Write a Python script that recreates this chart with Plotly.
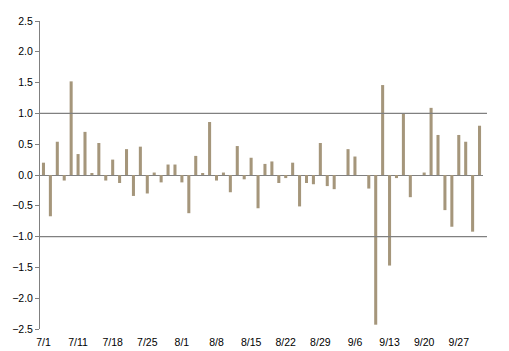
import plotly.graph_objects as go

dates = [
    "7/1", "7/5", "7/6", "7/7", "7/8", "7/11", "7/12", "7/13", "7/14", "7/15",
    "7/18", "7/19", "7/20", "7/21", "7/22", "7/25", "7/26", "7/27", "7/28", "7/29",
    "8/1", "8/2", "8/3", "8/4", "8/5", "8/8", "8/9", "8/10", "8/11", "8/12",
    "8/15", "8/16", "8/17", "8/18", "8/19", "8/22", "8/23", "8/24", "8/25", "8/26",
    "8/29", "8/30", "8/31",
    "9/1", "9/2", "9/6", "9/7", "9/8", "9/9", "9/12", "9/13", "9/14", "9/15", "9/16",
    "9/19", "9/20", "9/21", "9/22", "9/23", "9/26", "9/27", "9/28", "9/29", "9/30",
]

values = [
    0.20, -0.67, 0.54, -0.09, 1.52, 0.34, 0.70, 0.02, 0.52, -0.09,
    0.25, -0.13, 0.42, -0.34, 0.46, -0.30, 0.04, -0.12, 0.17, 0.17,
    -0.12, -0.62, 0.31, 0.02, 0.86, -0.09, 0.04, -0.28, 0.47, -0.07,
    0.28, -0.54, 0.18, 0.22, -0.13, -0.05, 0.20, -0.51, -0.13, -0.15,
    0.52, -0.18, -0.23,
    0.00, 0.42, 0.30, 0.00, -0.22, -2.43, 1.46, -1.47, -0.05, 1.00, -0.36,
    0.00, 0.04, 1.09, 0.65, -0.57, -0.84, 0.65, 0.54, -0.92, 0.80,
]

tick_labels = ["7/1", "7/11", "7/18", "7/25", "8/1", "8/8", "8/15", "8/22",
               "8/29", "9/6", "9/13", "9/20", "9/27"]
ref_levels = [1.0, -1.0]

bar_color = "#A5967B"
gray = "#808080"
font = dict(family="Liberation Sans, Arial, sans-serif", size=10.5, color="#000000")

fig = go.Figure(go.Bar(x=dates, y=values, marker=dict(color=bar_color, line=dict(width=0))))

shapes = [dict(type="line", xref="paper", yref="y", x0=0, x1=1.009, y0=v, y1=v,
               line=dict(color=gray, width=1.3)) for v in ref_levels]

fig.update_layout(
    width=509, height=351,
    margin=dict(l=40, r=26, t=21, b=22),
    paper_bgcolor="white", plot_bgcolor="white",
    bargap=0.56,
    showlegend=False,
    font=font,
    shapes=shapes,
    xaxis=dict(type="category", categoryorder="array", categoryarray=dates,
               tickmode="array", tickvals=tick_labels, ticktext=tick_labels,
               showgrid=False, showline=False, zeroline=False,
               ticks="outside", ticklen=3, tickcolor="rgba(0,0,0,0)",
               tickfont=font, tickangle=0, automargin=False),
    yaxis=dict(range=[-2.5, 2.5], dtick=0.5, tickformat=".1f",
               showgrid=False, showline=True, linecolor=gray, linewidth=1,
               ticks="outside", ticklen=4, tickcolor=gray,
               zeroline=True, zerolinecolor=gray, zerolinewidth=1.3,
               tickfont=font, automargin=False),
)

fig.write_html("out.html")
